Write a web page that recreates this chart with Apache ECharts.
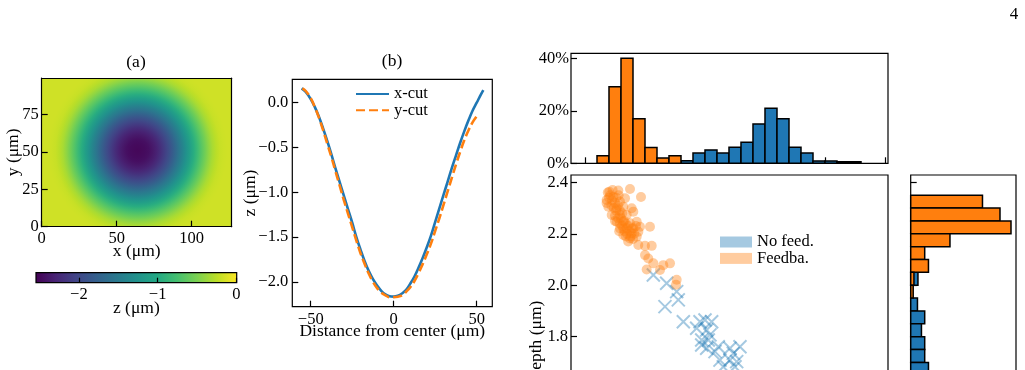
<!DOCTYPE html>
<html><head><meta charset="utf-8">
<script src="https://cdn.jsdelivr.net/npm/echarts@6/dist/echarts.min.js"></script>
<style>html,body{margin:0;padding:0;background:#fff}#c{width:1025px;height:370px}</style>
</head><body><div id="c"></div>
<script>
// ---------------- data ----------------
// (a) depth map: radial depth profile around the bowl centre (μm)
const bowlCenter = [64, 51];
const ringRadius = [0, 2.5, 5, 7.5, 10, 12.5, 15, 17.5, 20, 22.5, 25, 27.5, 30, 32.5, 35, 37.5, 40, 42.5, 45, 47.5, 50, 52.5, 55, 57.5, 60];
const ringDepth  = [-2.50, -2.49, -2.47, -2.44, -2.38, -2.31, -2.22, -2.11, -1.99, -1.86, -1.71, -1.56, -1.41, -1.26, -1.11, -0.96, -0.82, -0.68, -0.55, -0.43, -0.33, -0.26, -0.21, -0.19, -0.18];
const fieldDepth = -0.18;
const mapExtentX = [0, 126.7];
const mapExtentY = [0, 99.6];
const mapXTicks = [0, 50, 100];
const mapYTicks = [0, 25, 50, 75];
const colorbarRange = [-2.545, 0.005];
const colorbarTicks = [-2, -1, 0];

// (b) profiles
const cutX = [-55.5, -53, -50, -47.5, -45, -42.5, -40, -37.5, -35, -32.5, -30, -27.5, -25, -22.5, -20, -17.5, -15, -12.5, -10, -7.5, -5, -2.5, 0, 2.5, 5, 7.5, 10, 12.5, 15, 17.5, 20, 22.5, 25, 27.5, 30, 32.5, 35, 37.5, 40, 42.5, 45, 47.5, 50, 52.5, 54];
const xCut = [0.16, 0.12, 0.04, -0.05, -0.16, -0.29, -0.43, -0.58, -0.74, -0.89, -1.04, -1.19, -1.34, -1.50, -1.64, -1.77, -1.88, -1.97, -2.04, -2.10, -2.14, -2.16, -2.165, -2.155, -2.13, -2.09, -2.02, -1.94, -1.84, -1.73, -1.61, -1.48, -1.33, -1.18, -1.03, -0.88, -0.73, -0.59, -0.45, -0.32, -0.20, -0.09, 0.00, 0.09, 0.14];
const cutY = [-55, -53, -50, -47.5, -45, -42.5, -40, -37.5, -35, -32.5, -30, -27.5, -25, -22.5, -20, -17.5, -15, -12.5, -10, -7.5, -5, -2.5, 0, 2.5, 5, 7.5, 10, 12.5, 15, 17.5, 20, 22.5, 25, 27.5, 30, 32.5, 35, 37.5, 40, 42.5, 45, 47.5, 50.5];
const yCut = [0.16, 0.13, 0.05, -0.05, -0.17, -0.31, -0.46, -0.61, -0.77, -0.93, -1.09, -1.24, -1.39, -1.54, -1.68, -1.80, -1.91, -2.00, -2.07, -2.12, -2.15, -2.17, -2.17, -2.165, -2.15, -2.11, -2.06, -1.99, -1.90, -1.80, -1.69, -1.57, -1.43, -1.29, -1.14, -0.99, -0.84, -0.69, -0.55, -0.42, -0.31, -0.22, -0.14];
const profileXTicks = [-50, 0, 50];
const profileYTicks = [0, -0.5, -1, -1.5, -2];

// (c) histograms (percent of runs)
const topBinStart = [1.2, 1.4, 1.6, 1.8, 2.0, 2.2, 2.4, 2.6, 2.8, 3.0, 3.2, 3.4, 3.6, 3.8, 4.0, 4.2, 4.4, 4.6, 4.8, 5.0, 5.2, 5.4];
const topFeedback   = [2.9, 29.2, 40, 17, 6, 2, 2.9, 0, 0, 0, 0, 0, 0, 0, 0, 0, 0, 0, 0, 0, 0, 0];
const topNoFeedback = [0, 0, 0, 0, 0, 0, 0, 1, 3.9, 5.1, 3.9, 6.1, 8, 15, 21, 17, 6.1, 3.9, 0.9, 0.9, 0.6, 0.6];
const topBinWidth = 0.2;
const depthBinStart = [2.30, 2.25, 2.20, 2.15, 2.10, 2.05, 2.00, 1.95, 1.90, 1.85, 1.80, 1.75, 1.70, 1.65];
const depthFeedback   = [28.7, 35.7, 40.1, 15.7, 5.6, 7.1, 1.3, 1.0, 0, 0, 0, 0, 0, 0];
const depthNoFeedback = [0, 0, 0, 0, 0, 0, 2.9, 0, 2.7, 5.6, 4.3, 5.6, 5.6, 7.1];
const depthBinWidth = 0.05;
const pctTicks = [0, 20, 40];
const depthTicks = [1.2, 1.4, 1.6, 1.8, 2.0, 2.2, 2.4];
const widthTicks = [1, 2, 3, 4, 5, 6];

// (c) scatter
const feedbackPts = [
 [1.405,2.363],[1.555,2.368],[1.750,2.374],[1.361,2.331],[1.472,2.344],[1.583,2.325],[1.667,2.338],[1.933,2.343],
 [1.389,2.305],[1.528,2.299],[1.639,2.305],[1.778,2.299],[1.445,2.273],[1.583,2.273],[1.695,2.273],[1.805,2.286],
 [1.528,2.247],[1.639,2.247],[1.750,2.241],[1.862,2.247],[1.583,2.221],[1.695,2.221],[1.805,2.221],[1.917,2.227],
 [2.083,2.227],[1.639,2.195],[1.778,2.202],[1.889,2.208],[1.862,2.189],[1.750,2.182],[1.889,2.156],[2.000,2.153],
 [2.112,2.153],[2.000,2.117],[2.055,2.104],[2.139,2.085],[2.305,2.078],[2.417,2.085],[2.028,2.061],[2.250,2.059],
 [2.528,2.021],[2.517,2.002],
 [1.42,2.35],[1.45,2.33],[1.50,2.32],[1.44,2.31],[1.48,2.30],[1.52,2.29],[1.55,2.31],[1.58,2.29],[1.50,2.27],
 [1.55,2.26],[1.60,2.26],[1.62,2.28],[1.65,2.25],[1.58,2.24],[1.62,2.23],[1.68,2.24],[1.72,2.23],[1.66,2.21],
 [1.70,2.20],[1.74,2.21],[1.78,2.22],[1.82,2.20],[1.76,2.19],[1.80,2.18],[1.68,2.19],[1.72,2.17],[1.64,2.22],
 [1.85,2.23],[1.40,2.34],[1.38,2.36],[1.46,2.37],[1.52,2.34],[1.56,2.35],[1.36,2.32],[1.50,2.25],[1.57,2.21]
];
const noFeedbackPts = [
 [2.139,2.040],[2.361,2.008],[2.528,1.975],[2.555,1.943],[2.333,1.917],[2.639,1.858],[2.917,1.858],[3.000,1.865],
 [3.111,1.858],[2.861,1.833],[3.028,1.826],[3.083,1.807],[2.945,1.787],[3.055,1.787],[2.945,1.768],[3.028,1.755],
 [3.222,1.761],[3.167,1.742],[3.417,1.755],[3.583,1.761],[3.472,1.735],[3.250,1.709],[3.417,1.709],[3.528,1.703],
 [3.305,1.683],[3.500,1.683]
];

// ---------------- styling helpers ----------------
const FONT = 'Liberation Serif';
const BLUE = '#1f77b4', ORANGE = '#ff7f0e';
const viridisStops = ['#440154','#482475','#414487','#355f8d','#2a788e','#21918c','#22a884','#44bf70','#7ad151','#bddf26','#fde725'];
function hexRgb(h){return [parseInt(h.slice(1,3),16),parseInt(h.slice(3,5),16),parseInt(h.slice(5,7),16)];}
function viridis(t){
  t = Math.max(0, Math.min(1, t));
  const s = t*10, i = Math.min(9, Math.floor(s)), f = s - i;
  const a = hexRgb(viridisStops[i]), b = hexRgb(viridisStops[i+1]);
  return 'rgb(' + a.map((v,k)=>Math.round(v+(b[k]-v)*f)).join(',') + ')';
}
function depthColor(z){ return viridis((z-colorbarRange[0])/(colorbarRange[1]-colorbarRange[0])); }
const minus = s => String(s).replace('-', '\u2212');
const TS = 16.5, NS = 17.5;
const lbl = (extra) => Object.assign({color:'#000', fontFamily:FONT, fontSize:TS}, extra||{});
const tick = (vals, extra) => Object.assign({show:true, inside:true, length:6, lineStyle:{color:'#000', width:1.2}, customValues:vals}, extra||{});
const noLine = {show:false, onZero:false};
const nameStyle = {color:'#000', fontFamily:FONT, fontSize:NS};

function vBars(color){
  return function(params, api){
    const x0 = api.value(0), h = api.value(1);
    if (!h) return null;
    const p0 = api.coord([x0, 0]), p1 = api.coord([x0 + topBinWidth, h]);
    return {type:'rect', shape:{x:p0[0], y:p1[1], width:p1[0]-p0[0], height:p0[1]-p1[1]},
            style:{fill:color, stroke:'#000', lineWidth:1.5}};
  };
}
function hBars(color){
  return function(params, api){
    const y0 = api.value(0), w = api.value(1);
    if (!w) return null;
    const p0 = api.coord([0, y0]), p1 = api.coord([w, y0 + depthBinWidth]);
    return {type:'rect', shape:{x:p0[0], y:p1[1], width:p1[0]-p0[0], height:p0[1]-p1[1]},
            style:{fill:color, stroke:'#000', lineWidth:1.5}};
  };
}

const chart = echarts.init(document.getElementById('c'), null, {renderer:'canvas'});
const depthMin = 2.4284 - 333/257.3;
const G = {outerBoundsMode:'none', containLabel:false};
const frame = {show:true, borderColor:'#000', borderWidth:1.2, backgroundColor:'transparent'};

const option = {
  animation:false,
  backgroundColor:'#fff',
  graphic:[
    {type:'text', x:136, y:62, style:{text:'(a)', font:'17.5px "Liberation Serif"', fill:'#000', align:'center', verticalAlign:'middle'}},
    {type:'text', x:392, y:61, style:{text:'(b)', font:'17.5px "Liberation Serif"', fill:'#000', align:'center', verticalAlign:'middle'}},
    {type:'text', x:1014, y:15, style:{text:'4', font:'17px "Liberation Serif"', fill:'#000', align:'center', verticalAlign:'middle'}}
  ],
  grid:[
    Object.assign({left:41.7, top:78, width:190, height:148.7}, G),
    Object.assign({left:292.3, top:79.3, width:200, height:227.4}, G, frame),
    Object.assign({left:571, top:53.3, width:317, height:110}, G, frame),
    Object.assign({left:571, top:175, width:317, height:333}, G, frame),
    Object.assign({left:910.7, top:175, width:105.3, height:333}, G, frame),
    Object.assign({left:36, top:272.7, width:200.7, height:10}, G)
  ],
  xAxis:[
    {type:'value', gridIndex:0, min:mapExtentX[0], max:mapExtentX[1], z:10,
     axisLine:{show:true, onZero:false, lineStyle:{color:'#000', width:1.2}}, axisTick:tick(mapXTicks), splitLine:{show:false},
     axisLabel:lbl({customValues:mapXTicks, margin:3}),
     name:'x (\u03bcm)', nameLocation:'middle', nameGap:16, nameTextStyle:nameStyle, nameMoveOverlap:false},
    {type:'value', gridIndex:0, position:'top', min:mapExtentX[0], max:mapExtentX[1], z:10,
     axisLine:{show:true, onZero:false, lineStyle:{color:'#000', width:1.2}}, axisTick:{show:false}, axisLabel:{show:false}, splitLine:{show:false}},
    {type:'value', gridIndex:1, min:-61.1, max:59.4,
     axisLine:noLine, axisTick:tick(profileXTicks), splitLine:{show:false},
     axisLabel:lbl({customValues:profileXTicks, margin:4, formatter:v=>minus(v)}),
     name:'Distance from center (\u03bcm)', nameLocation:'middle', nameGap:16, nameTextStyle:nameStyle, nameMoveOverlap:false},
    {type:'value', gridIndex:2, min:0.7667, max:6.05,
     axisLine:noLine, axisTick:tick(widthTicks), axisLabel:{show:false}, splitLine:{show:false}},
    {type:'value', gridIndex:3, min:0.7667, max:6.05,
     axisLine:noLine, axisTick:tick(widthTicks), axisLabel:{show:false}, splitLine:{show:false}},
    {type:'value', gridIndex:4, min:0, max:42.1,
     axisLine:noLine, axisTick:{show:false}, axisLabel:{show:false}, splitLine:{show:false}},
    {type:'value', gridIndex:5, min:colorbarRange[0], max:colorbarRange[1], z:10,
     axisLine:noLine, axisTick:tick(colorbarTicks, {length:5}), splitLine:{show:false},
     axisLabel:lbl({customValues:colorbarTicks, margin:3, formatter:v=>minus(v)}),
     name:'z (\u03bcm)', nameLocation:'middle', nameGap:17, nameTextStyle:nameStyle, nameMoveOverlap:false}
  ],
  yAxis:[
    {type:'value', gridIndex:0, min:mapExtentY[0], max:mapExtentY[1], z:10,
     axisLine:{show:true, onZero:false, lineStyle:{color:'#000', width:1.2}}, axisTick:tick(mapYTicks), splitLine:{show:false},
     axisLabel:lbl({customValues:mapYTicks, margin:3}),
     name:'y (\u03bcm)', nameLocation:'middle', nameGap:19, nameTextStyle:nameStyle, nameMoveOverlap:false},
    {type:'value', gridIndex:0, position:'right', min:mapExtentY[0], max:mapExtentY[1], z:10,
     axisLine:{show:true, onZero:false, lineStyle:{color:'#000', width:1.2}}, axisTick:{show:false}, axisLabel:{show:false}, splitLine:{show:false}},
    {type:'value', gridIndex:1, min:-2.277, max:0.261,
     axisLine:noLine, axisTick:tick(profileYTicks), splitLine:{show:false},
     axisLabel:lbl({customValues:profileYTicks, margin:4, formatter:v=>minus(v.toFixed(1))}),
     name:'z (\u03bcm)', nameLocation:'middle', nameGap:33, nameTextStyle:nameStyle, nameMoveOverlap:false},
    {type:'value', gridIndex:2, min:0, max:41.9,
     axisLine:noLine, axisTick:tick(pctTicks), splitLine:{show:false},
     axisLabel:lbl({customValues:pctTicks, margin:2, formatter:v=>v+'%'})},
    {type:'value', gridIndex:3, min:depthMin, max:2.4284,
     axisLine:noLine, axisTick:tick(depthTicks), splitLine:{show:false},
     axisLabel:lbl({customValues:depthTicks, margin:3, formatter:v=>v.toFixed(1)}),
     name:'Depth (\u03bcm)', nameLocation:'middle', nameGap:26, nameTextStyle:nameStyle, nameMoveOverlap:false},
    {type:'value', gridIndex:4, min:depthMin, max:2.4284,
     axisLine:noLine, axisTick:tick(depthTicks), axisLabel:{show:false}, splitLine:{show:false}},
    {type:'value', gridIndex:5, min:0, max:1, axisLine:noLine, axisTick:{show:false}, axisLabel:{show:false}, splitLine:{show:false}}
  ],
  legend:[
    {data:['x-cut','y-cut'], orient:'vertical', left:355, top:85.5, padding:0, itemWidth:33, itemHeight:14, itemGap:-0.8,
     itemStyle:{opacity:0}, textStyle:{color:'#000', fontFamily:FONT, fontSize:TS}, selectedMode:false},
    {data:[{name:'No feed.', icon:'rect', itemStyle:{color:'rgba(31,119,180,0.5)', borderWidth:0}},
           {name:'Feedba.', icon:'rect', itemStyle:{color:'rgba(255,127,14,0.5)', borderWidth:0}}],
     orient:'vertical', left:720, top:233.5, padding:0, itemWidth:32, itemHeight:11, itemGap:-0.6,
     textStyle:{color:'#000', fontFamily:FONT, fontSize:TS}, selectedMode:false}
  ],
  series:[
    {type:'custom', name:'depth map', xAxisIndex:0, yAxisIndex:0, clip:true,
     data:[[bowlCenter[0], bowlCenter[1], ringRadius[ringRadius.length-1]]],
     renderItem:function(params, api){
       const c = api.coord([api.value(0), api.value(1)]);
       const R = api.value(2);
       const sz = api.size([R, R]);
       const tl = api.coord([mapExtentX[0], mapExtentY[1]]), br = api.coord([mapExtentX[1], mapExtentY[0]]);
       const stops = ringRadius.map((r,i)=>({offset:r/R, color:depthColor(ringDepth[i])}));
       return {type:'group', children:[
         {type:'rect', shape:{x:tl[0], y:tl[1], width:br[0]-tl[0], height:br[1]-tl[1]}, style:{fill:depthColor(fieldDepth)}},
         {type:'circle', shape:{cx:c[0], cy:c[1], r:(sz[0]+sz[1])/2}, style:{fill:{type:'radial', x:0.5, y:0.5, r:0.5, colorStops:stops}}}
       ]};
     }},
    {type:'custom', name:'colorbar', xAxisIndex:6, yAxisIndex:6,
     data:[[colorbarRange[0], colorbarRange[1]]],
     renderItem:function(params, api){
       const p0 = api.coord([api.value(0), 0]), p1 = api.coord([api.value(1), 1]);
       return {type:'rect', shape:{x:p0[0], y:p1[1], width:p1[0]-p0[0], height:p0[1]-p1[1]},
         style:{stroke:'#000', lineWidth:1.2, fill:{type:'linear', x:0, y:0, x2:1, y2:0,
           colorStops:viridisStops.map((c,i)=>({offset:i/10, color:c}))}}};
     }},
    {type:'line', name:'x-cut', xAxisIndex:2, yAxisIndex:2, data:cutX.map((x,i)=>[x, xCut[i]]),
     showSymbol:false, symbol:'none', smooth:0.4, lineStyle:{color:BLUE, width:2.6}, itemStyle:{color:BLUE}, z:3},
    {type:'line', name:'y-cut', xAxisIndex:2, yAxisIndex:2, data:cutY.map((x,i)=>[x, yCut[i]]),
     showSymbol:false, symbol:'none', smooth:0.4, lineStyle:{color:ORANGE, width:2.6, type:[9,4]}, itemStyle:{color:ORANGE}, z:4},
    {type:'custom', name:'top no feedback', xAxisIndex:3, yAxisIndex:3,
     data:topBinStart.map((s,i)=>[s, topNoFeedback[i]]), renderItem:vBars(BLUE)},
    {type:'custom', name:'top feedback', xAxisIndex:3, yAxisIndex:3,
     data:topBinStart.map((s,i)=>[s, topFeedback[i]]), renderItem:vBars(ORANGE)},
    {type:'scatter', name:'No feed.', xAxisIndex:4, yAxisIndex:4, data:noFeedbackPts,
     symbol:'path://M0,0L10,10M10,0L0,10', symbolSize:13,
     itemStyle:{color:'rgba(0,0,0,0)', borderColor:'rgba(31,119,180,0.5)', borderWidth:2}},
    {type:'scatter', name:'Feedba.', xAxisIndex:4, yAxisIndex:4, data:feedbackPts,
     symbol:'circle', symbolSize:10, itemStyle:{color:'rgba(255,127,14,0.5)', borderWidth:0}},
    {type:'custom', name:'side no feedback', xAxisIndex:5, yAxisIndex:5,
     data:depthBinStart.map((s,i)=>[s, depthNoFeedback[i]]), renderItem:hBars(BLUE)},
    {type:'custom', name:'side feedback', xAxisIndex:5, yAxisIndex:5,
     data:depthBinStart.map((s,i)=>[s, depthFeedback[i]]), renderItem:hBars(ORANGE)}
  ]
};
chart.setOption(option);
</script>
</body></html>
